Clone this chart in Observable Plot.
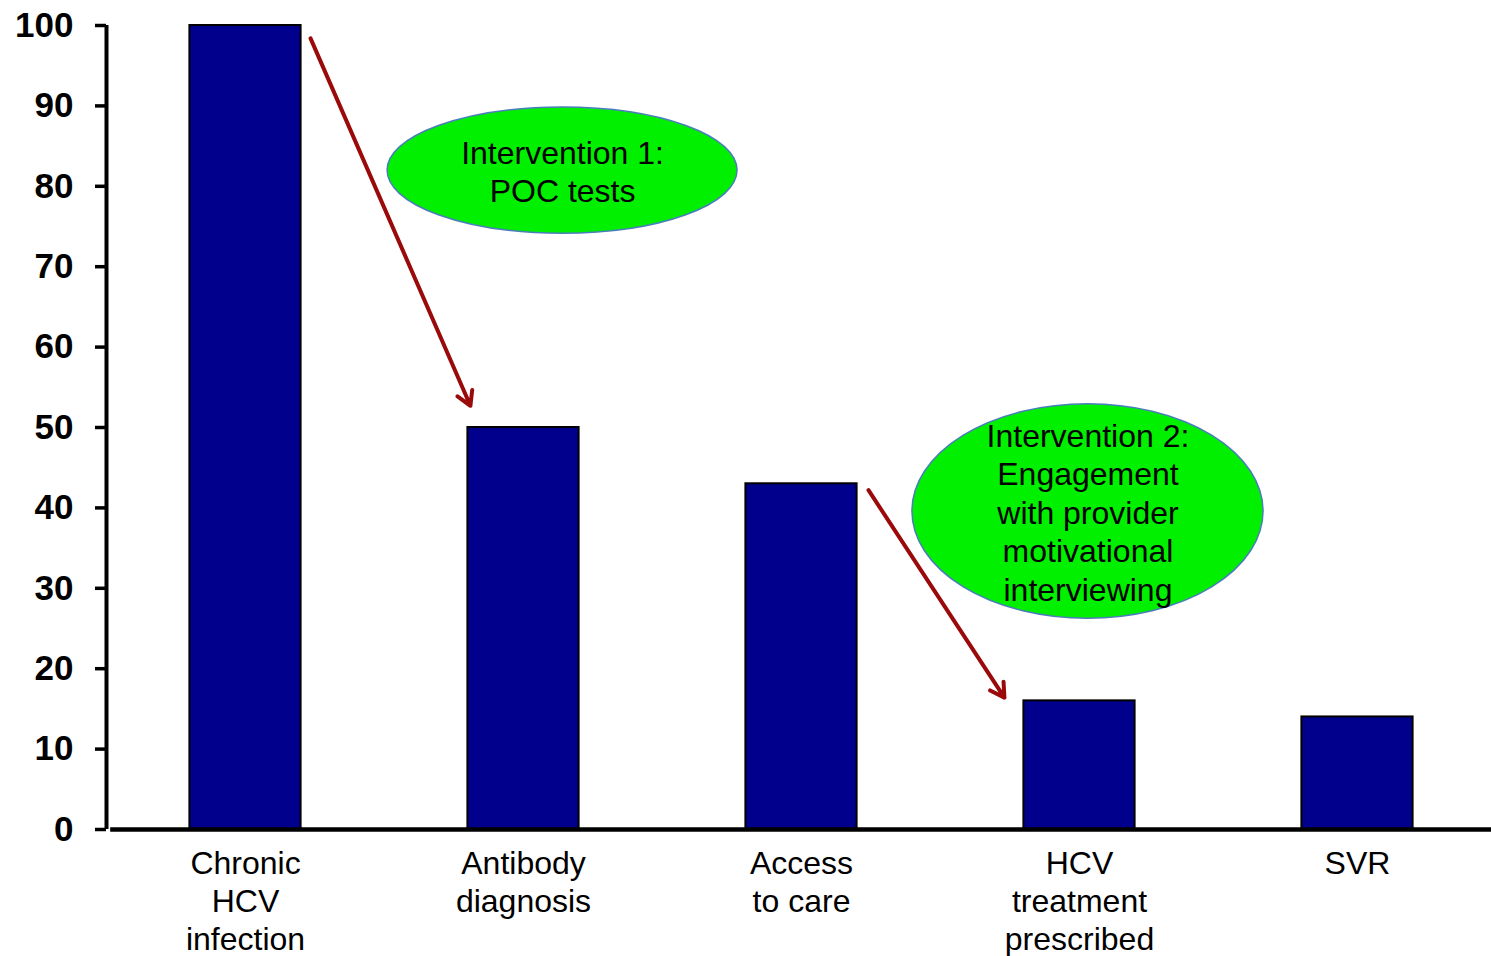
<!DOCTYPE html>
<html>
<head>
<meta charset="utf-8">
<script src="https://cdn.jsdelivr.net/npm/d3@7"></script>
<script src="https://cdn.jsdelivr.net/npm/@observablehq/plot@0.6"></script>
<style>
  body { margin: 0; background: #fff; }
  svg { display: block; }
</style>
</head>
<body>
<div id="chart"></div>
<script>
// Cascade of care stages (percent of people with chronic HCV)
const stages = ["Chronic\nHCV\ninfection", "Antibody\ndiagnosis", "Access\nto care", "HCV\ntreatment\nprescribed", "SVR"];
const percents = [100, 50, 43, 16, 14];
const yTicks = [0, 10, 20, 30, 40, 50, 60, 70, 80, 90, 100];

// Intervention arrows, in stage-index / percent units
const arrowFrom = [[0.234, 98.4], [2.241, 42.2]];
const arrowTo = [[0.809, 52.7], [2.730, 16.4]];

// Intervention call-outs: [x1, x2] in stage index, [y1, y2] in percent
const calloutLabels = ["Intervention 1:\nPOC tests", "Intervention 2:\nEngagement\nwith provider\nmotivational\ninterviewing"];
const calloutX = [[0.511, 1.770], [2.399, 3.662]];
const calloutY = [[74.1, 89.8], [26.2, 52.9]];

const bars = stages.map((s, i) => ({i, stage: s, value: percents[i]}));
const arrows = arrowFrom.map((f, k) => ({x1: f[0], y1: f[1], x2: arrowTo[k][0], y2: arrowTo[k][1]}));
const callouts = calloutLabels.map((label, k) => ({
  label,
  x1: calloutX[k][0], x2: calloutX[k][1],
  y1: calloutY[k][0], y2: calloutY[k][1],
  cx: (calloutX[k][0] + calloutX[k][1]) / 2,
  cy: (calloutY[k][0] + calloutY[k][1]) / 2
}));

const font = "'Liberation Sans', Arial, Helvetica, sans-serif";

const chart = Plot.plot({
  width: 1491,
  height: 956,
  marginLeft: 106,
  marginRight: 0,
  marginTop: 25,
  marginBottom: 127,
  style: {fontFamily: font, background: "#fff", color: "#000"},
  x: {type: "linear", domain: [-0.5, 4.5], range: [106, 1496], axis: null},
  y: {domain: [0, 100], axis: null},
  marks: [
    Plot.rectY(bars, {
      x1: d => d.i - 0.2, x2: d => d.i + 0.2, y: "value",
      fill: "#00008C", stroke: "#000", strokeWidth: 2
    }),
    // value axis line and baseline
    Plot.ruleX([-0.5], {y1: 0, y2: 100, stroke: "#000", strokeWidth: 4}),
    Plot.ruleY([0], {x1: -0.485, x2: 4.5, stroke: "#000", strokeWidth: 4.5}),
    Plot.axisY({
      ticks: yTicks, tickSize: 11, tickPadding: 22, strokeWidth: 3.5,
      fontSize: 35, fontWeight: "bold", label: null, tickFormat: d => String(d)
    }),
    Plot.axisX({
      ticks: d3.range(stages.length), tickFormat: i => stages[i], tickSize: 0, tickPadding: 17,
      fontSize: 32, lineHeight: 1.19, label: null
    }),
    Plot.arrow(arrows, {
      x1: "x1", y1: "y1", x2: "x2", y2: "y2",
      stroke: "#9A0A0A", strokeWidth: 4, headLength: 6, headAngle: 60
    }),
    Plot.rect(callouts, {
      x1: "x1", x2: "x2", y1: "y1", y2: "y2",
      fill: "#00F000", stroke: "#4A7EBB", strokeWidth: 1.5, rx: 1000, ry: 1000
    }),
    Plot.text(callouts, {
      x: "cx", y: "cy", text: "label", fontSize: 32, lineHeight: 1.2, fill: "#000"
    })
  ]
});

document.getElementById("chart").appendChild(chart);
</script>
</body>
</html>
